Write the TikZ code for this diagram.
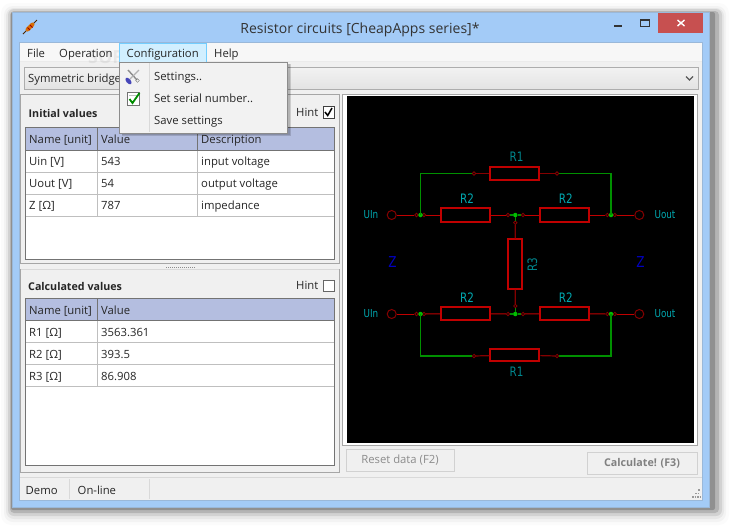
\documentclass[tikz,border=0pt]{standalone}
\usepackage{fontspec}
\setmainfont{Open Sans}
\newfontfamily\kicadfont[FakeStretch=0.8]{DejaVu Sans}
\definecolor{titleblue}{HTML}{A3CBF7}
\definecolor{clientgray}{HTML}{F0F0F0}
\definecolor{headerblue}{HTML}{B4BEE0}
\definecolor{closered}{HTML}{C75050}
\definecolor{wirered}{HTML}{C00000}
\definecolor{pinred}{HTML}{840000}
\definecolor{wiregreen}{HTML}{009000}
\definecolor{labelcyan}{HTML}{00A8B0}
\newcommand{\uifont}{\fontsize{11.3}{14}\selectfont}
\newcommand{\kifont}{\kicadfont\fontsize{13}{15}\selectfont}
\tikzset{
  ui text/.style={anchor=west,inner sep=0pt,text height=10pt,text depth=2pt,text=black!85,font=\uifont},
  bold text/.style={ui text,font=\fontsize{10.7}{14}\selectfont\bfseries},
  grid line/.style={draw=black!25,line width=0.8pt},
  res node/.style={draw=wirered,line width=2pt,rectangle,inner sep=0pt},
  pin node/.style={circle,draw=pinred,line width=0.8pt,inner sep=0pt,minimum size=3.4pt},
  port node/.style={circle,draw=pinred,line width=1pt,inner sep=0pt,minimum size=9pt},
  dot node/.style={circle,fill=green!75!black,inner sep=0pt,minimum size=4.5pt},
  red wire/.style={draw=wirered,line width=1pt},
  dark wire/.style={draw=pinred,line width=1.2pt},
  green wire/.style={draw=wiregreen,line width=1.2pt},
  schem label/.style={inner sep=0pt,text=labelcyan,font=\kifont},
  port label/.style={inner sep=0pt,text=labelcyan,font=\kicadfont\fontsize{11}{13}\selectfont},
  z label/.style={inner sep=0pt,text=blue!75!black,font=\kicadfont\fontsize{15}{17}\selectfont},
}
\begin{document}
\begin{tikzpicture}[x=1pt,y=-1pt]
  \useasboundingbox (0,0) rectangle (730,528);
  % window shadow
  \fill[black,opacity=0.015,rounded corners=10pt] (1,3) rectangle (729,525);
  \fill[black,opacity=0.03,rounded corners=9pt] (4,6) rectangle (726,522);
  \fill[black,opacity=0.05,rounded corners=8pt] (6,8) rectangle (724,519);
  \fill[black,opacity=0.09,rounded corners=6pt] (8,9) rectangle (722,516);
  \fill[black,opacity=0.14,rounded corners=4pt] (10,11) rectangle (719,513);
  \fill[black,opacity=0.2,rounded corners=2pt] (11,12) rectangle (715,510);
  % window
  \fill[titleblue,draw=titleblue!75!gray] (12.5,12.5) rectangle (709.5,507);
  \fill[clientgray,draw=titleblue!75!gray] (19.5,42.5) rectangle (702.5,500);
  \node[inner sep=0pt,text=black!80,font=\fontsize{14}{16}\selectfont] (title) at (360,29.5) {Resistor circuits [CheapApps series]*};
  % resistor icon
  \draw[black!70!orange,line width=0.9pt] (23,34) -- (37,20);
  \draw[orange!85!black,line width=4pt,line cap=round] (27.5,29.5) -- (32.5,24.5);
  \draw[red!60!black,line width=1pt] (27.5,27.5) -- (30,30) (30,25) -- (32.5,27.5);
  % window buttons
  \fill[black!80] (614,25) rectangle (622,27);
  \draw[black!80,line width=1pt] (640.5,19.5) rectangle (649.5,26);
  \draw[black!80,line width=2pt] (640.5,20) -- (649.5,20);
  \fill[closered] (658,13) rectangle (703,33);
  \draw[white,line width=1.4pt] (677.5,20) -- (684.5,26) (677.5,26) -- (684.5,20);
  % menu bar
  \fill[black!3!white] (20,43) rectangle (702,61.5);
  \draw[black!8] (20,61.5) -- (702,61.5);
  \node[opacity=0.06,inner sep=0pt,text=black,font=\fontsize{18}{20}\selectfont\bfseries] (mark) at (137,57) {SOFTPEDIA};
  \fill[blue!35!cyan!18!white,draw=blue!35!cyan!55!white] (119.5,43.5) rectangle (206.5,62);
  \node[ui text] (fileitem) at (27,53) {File};
  \node[ui text] (opitem) at (59,53) {Operation};
  \node[ui text] (confitem) at (126.5,53) {Configuration};
  \node[ui text] (helpitem) at (214,53) {Help};
  % combo box
  \shade[top color=black!5,bottom color=black!11] (24,67) rectangle (698,89);
  \draw[black!32] (24,67) rectangle (698,89);
  \node[ui text] (combotext) at (28,78.5) {Symmetric bridge};
  \draw[black!65,line width=1.3pt] (686,76.5) -- (689.5,80) -- (693,76.5);
  % initial values panel
  \draw[black!35] (20.5,94) rectangle (339.5,263.5);
  \node[bold text] (inittitle) at (28.5,113) {Initial values};
  \node[ui text] (inithint) at (296,112) {Hint};
  \node[draw=black!75,fill=white,minimum size=11.5pt,inner sep=0pt] (initcheck) at (328.5,112) {};
  \draw[black,line width=1.5pt] (325,112) -- (327.7,115.5) -- (332,108);
  \fill[white] (25.5,127.5) rectangle (334.5,259.5);
  \fill[headerblue] (25.5,127.5) rectangle (334.5,150);
  \draw[grid line] (25.5,172) -- (334.5,172) (25.5,194) -- (334.5,194) (25.5,216) -- (334.5,216);
  \draw[grid line] (97.5,150) -- (97.5,216) (197.5,150) -- (197.5,216);
  \draw[black!55,line width=0.8pt] (25.5,150) -- (334.5,150) (97.5,127.5) -- (97.5,150) (197.5,127.5) -- (197.5,150);
  \draw[black!55,line width=0.8pt] (25.5,127.5) rectangle (334.5,259.5);
  \node[ui text] (ihname) at (29,139) {Name [unit]};
  \node[ui text] (ihvalue) at (101,139) {Value};
  \node[ui text] (ihdesc) at (201,139) {Description};
  \node[ui text] (ia1) at (29,161) {Uin [V]};
  \node[ui text] (ib1) at (101,161) {543};
  \node[ui text] (ic1) at (201,161) {input voltage};
  \node[ui text] (ia2) at (29,183) {Uout [V]};
  \node[ui text] (ib2) at (101,183) {54};
  \node[ui text] (ic2) at (201,183) {output voltage};
  \node[ui text] (ia3) at (29,205) {Z [Ω]};
  \node[ui text] (ib3) at (101,205) {787};
  \node[ui text] (ic3) at (201,205) {impedance};
  % splitter
  \draw[black!45,line width=1pt,dash pattern=on 1pt off 1pt] (166,267) -- (195,267);
  % calculated values panel
  \draw[black!15] (20.5,269) -- (339.5,269);
  \draw[black!35] (20.5,269) -- (20.5,472) -- (339.5,472) -- (339.5,269);
  \node[bold text] (calctitle) at (28,286.5) {Calculated values};
  \node[ui text] (calchint) at (296,285.5) {Hint};
  \node[draw=black!60,fill=white,minimum size=11.5pt,inner sep=0pt] (calccheck) at (328.5,285.5) {};
  \fill[white] (25.5,298.5) rectangle (334.5,465);
  \fill[headerblue] (25.5,298.5) rectangle (334.5,320);
  \draw[grid line] (25.5,342) -- (334.5,342) (25.5,364) -- (334.5,364) (25.5,386) -- (334.5,386);
  \draw[grid line] (97.5,320) -- (97.5,386);
  \draw[black!55,line width=0.8pt] (25.5,320) -- (334.5,320) (97.5,298.5) -- (97.5,320);
  \draw[black!55,line width=0.8pt] (25.5,298.5) rectangle (334.5,465);
  \node[ui text] (chname) at (29,310) {Name [unit]};
  \node[ui text] (chvalue) at (101,310) {Value};
  \node[ui text] (ca1) at (29,332) {R1 [Ω]};
  \node[ui text] (cb1) at (101,332) {3563.361};
  \node[ui text] (ca2) at (29,354) {R2 [Ω]};
  \node[ui text] (cb2) at (101,354) {393.5};
  \node[ui text] (ca3) at (29,376) {R3 [Ω]};
  \node[ui text] (cb3) at (101,376) {86.908};
  % schematic
  \draw[black!35,fill=white] (342.5,94) rectangle (697.5,445);
  \fill[black] (347,96) rectangle (694,443);
  \node[res node,minimum width=49pt,minimum height=12.5pt] (R1t) at (514.8,173.5) {};
  \node[res node,minimum width=49pt,minimum height=13.5pt] (R2a) at (465.4,215) {};
  \node[res node,minimum width=49pt,minimum height=13.5pt] (R2b) at (564.7,215) {};
  \node[res node,minimum width=13.5pt,minimum height=49.5pt] (R3) at (515.2,264) {};
  \node[res node,minimum width=49pt,minimum height=13.5pt] (R2c) at (465.4,313.7) {};
  \node[res node,minimum width=49pt,minimum height=13.5pt] (R2d) at (564.7,313.7) {};
  \node[res node,minimum width=49pt,minimum height=12pt] (R1b) at (514.8,355) {};
  \node[port node] (inA) at (391.7,215) {};
  \node[port node] (outA) at (639.3,215) {};
  \node[port node] (inB) at (391.7,314) {};
  \node[port node] (outB) at (639.3,314) {};
  \node[pin node] (p1) at (416.5,215) {};
  \node[pin node] (p2) at (424,215) {};
  \node[pin node] (p3) at (508,215) {};
  \node[pin node] (p4) at (523,215) {};
  \node[pin node] (p5) at (607.3,215) {};
  \node[pin node] (p6) at (614.8,215) {};
  \node[pin node] (p7) at (515.3,222.7) {};
  \node[pin node] (p8) at (474,173.5) {};
  \node[pin node] (p9) at (557,173.5) {};
  \node[pin node] (q1) at (416.5,314) {};
  \node[pin node] (q2) at (424,314) {};
  \node[pin node] (q3) at (508,314) {};
  \node[pin node] (q4) at (523,314) {};
  \node[pin node] (q5) at (607.3,314) {};
  \node[pin node] (q6) at (614.8,314) {};
  \node[pin node] (q7) at (515.3,306) {};
  \node[pin node] (q8) at (474,356) {};
  \node[pin node] (q9) at (557,356) {};
  \path[red wire]
    (inA) edge (p1)
    (p2) edge (R2a)
    (R2a) edge (p3)
    (p4) edge (R2b)
    (R2b) edge (p5)
    (p6) edge (outA)
    (inB) edge (q1)
    (q2) edge (R2c)
    (R2c) edge (q3)
    (q4) edge (R2d)
    (R2d) edge (q5)
    (q6) edge (outB)
    ;
  \path[dark wire]
    (p8) edge (R1t)
    (R1t) edge (p9)
    (q8) edge (R1b)
    (R1b) edge (q9)
    (p7) edge (R3)
    (R3) edge (q7)
    ;
  \node[dot node] (jA) at (420.5,215) {};
  \node[dot node] (jB) at (515.3,215) {};
  \node[dot node] (jC) at (611,215) {};
  \node[dot node] (jD) at (420.5,314) {};
  \node[dot node] (jE) at (515.3,314) {};
  \node[dot node] (jF) at (611,314) {};
  \draw[green wire] (jA.center) |- (p8);
  \draw[green wire] (jC.center) |- (p9);
  \draw[green wire] (jD.center) |- (q8);
  \draw[green wire] (jF.center) |- (q9);
  \path[green wire]
    (p3) edge (jB)
    (jB) edge (p4)
    (jB) edge (p7)
    (q3) edge (jE)
    (jE) edge (q4)
    (jE) edge (q7)
    ;
  \node[schem label,text=labelcyan!80!black] (lR1t) at (516.5,157) {R1};
  \node[schem label] (lR2a) at (467,198.5) {R2};
  \node[schem label] (lR2b) at (565.8,198.5) {R2};
  \node[schem label,text=labelcyan!80!black,rotate=90] (lR3) at (532.5,265) {R3};
  \node[schem label] (lR2c) at (467,297.5) {R2};
  \node[schem label] (lR2d) at (565.8,297.5) {R2};
  \node[schem label,text=labelcyan!80!black] (lR1b) at (516.5,372) {R1};
  \node[port label] (lUinA) at (371,215) {UIn};
  \node[port label] (lUoutA) at (665,215) {Uout};
  \node[port label] (lUinB) at (371,314) {UIn};
  \node[port label] (lUoutB) at (665,314) {Uout};
  \node[z label] (lZa) at (392.5,262) {Z};
  \node[z label] (lZb) at (640.5,262) {Z};
  % buttons
  \draw[black!18,fill=clientgray] (346,449) rectangle (454,471);
  \node[inner sep=0pt,text=black!45,font=\uifont] (resetbtn) at (400,460.5) {Reset data (F2)};
  \draw[black!18,fill=clientgray] (587.5,452) rectangle (697,474);
  \node[inner sep=0pt,text=black!50,font=\fontsize{10.7}{14}\selectfont\bfseries] (calcbtn) at (642,463.5) {Calculate! (F3)};
  % status bar
  \draw[black!15] (20,477) -- (702,477);
  \draw[black!15] (69.5,479) -- (69.5,499) (149.5,479) -- (149.5,499);
  \node[ui text] (demotext) at (25.5,490) {Demo};
  \node[ui text] (onlinetext) at (77.5,490) {On-line};
  \draw[black!40,line width=1.5pt,dash pattern=on 1.5pt off 1pt] (692,497) -- (700,497) (695,493.5) -- (700,493.5) (698,490) -- (700,490);
  % popup menu
  \fill[black,opacity=0.15] (121.5,64) rectangle (291,136);
  \fill[black,opacity=0.12] (121.5,64) rectangle (289.5,134.5);
  \draw[black!45,fill=black!5] (119.5,62) rectangle (287.5,133);
  \draw[black!15] (149.5,63) -- (149.5,132);
  \node[ui text] (setitem) at (154,76) {Settings..};
  \node[ui text] (serialitem) at (154,98) {Set serial number..};
  \node[ui text] (saveitem) at (154,120) {Save settings};
  % tools icon
  \draw[black!45,line width=1.4pt] (128,70) -- (137,80);
  \draw[black!30,line width=1.4pt] (139,70) -- (130,79);
  \draw[black!55] (137.5,80.5) circle (1.8pt);
  \fill[blue!45!gray,rotate around={-50:(128.5,81)}] (128.5,81) ellipse (4pt and 2.2pt);
  % check icon
  \draw[black!55,fill=white,line width=0.9pt] (127,92.5) rectangle (139,105);
  \draw[black!25] (129,95.5) -- (137,95.5);
  \draw[green!55!black,line width=1.8pt] (129.5,99) -- (132.5,103) -- (139.5,93);
\end{tikzpicture}
\end{document}
